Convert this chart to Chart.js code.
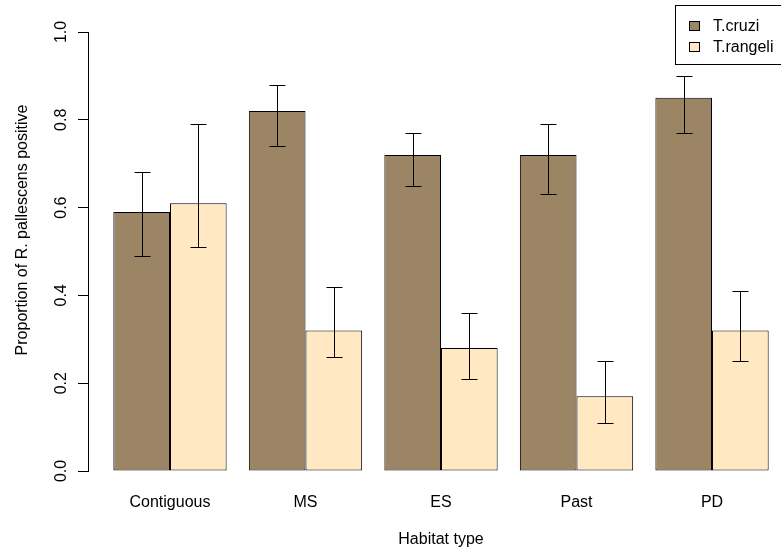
<!DOCTYPE html>
<html>
<head>
<meta charset="utf-8">
<script src="https://cdn.jsdelivr.net/npm/chart.js@4.4.1/dist/chart.umd.min.js"></script>
<style>
html,body{margin:0;padding:0;background:#fff;}
#wrap{width:781px;height:551px;}
</style>
</head>
<body>
<div id="wrap"><canvas id="c" width="781" height="551"></canvas></div>
<script>
// ---- data ----
const categories = ['Contiguous', 'MS', 'ES', 'Past', 'PD'];
const seriesNames = ['T.cruzi', 'T.rangeli'];
const cruzi      = [0.59, 0.82, 0.72, 0.72, 0.85];
const cruziLo    = [0.49, 0.74, 0.65, 0.63, 0.77];
const cruziHi    = [0.68, 0.88, 0.77, 0.79, 0.90];
const rangeli    = [0.61, 0.32, 0.28, 0.17, 0.32];
const rangeliLo  = [0.51, 0.26, 0.21, 0.11, 0.25];
const rangeliHi  = [0.79, 0.42, 0.36, 0.25, 0.41];
const yTicks     = [0.0, 0.2, 0.4, 0.6, 0.8, 1.0];
const xTitle = 'Habitat type';
const yTitle = 'Proportion of R. pallescens positive';

const positions = categories.map((c, i) => i + 1);
const errLo = [cruziLo, rangeliLo];
const errHi = [cruziHi, rangeliHi];
const colors = ['#9C8565', '#FFE8C2'];
const FONT = '"Liberation Sans", Arial, Helvetica, sans-serif';

const errorBars = {
  id: 'errorBars',
  afterDatasetsDraw(chart) {
    const ctx = chart.ctx;
    const ys = chart.scales.y;
    ctx.save();
    ctx.strokeStyle = '#000';
    ctx.lineWidth = 1;
    chart.data.datasets.forEach((ds, di) => {
      const meta = chart.getDatasetMeta(di);
      meta.data.forEach((el, j) => {
        const x = Math.round(el.x) + 0.5;
        const yH = Math.round(ys.getPixelForValue(errHi[di][j])) + 0.5;
        const yL = Math.round(ys.getPixelForValue(errLo[di][j])) + 0.5;
        ctx.beginPath();
        ctx.moveTo(x, yH); ctx.lineTo(x, yL);
        ctx.moveTo(x - 8, yH); ctx.lineTo(x + 8, yH);
        ctx.moveTo(x - 8, yL); ctx.lineTo(x + 8, yL);
        ctx.stroke();
      });
    });
    ctx.restore();
  }
};

const extras = {
  id: 'extras',
  afterDraw(chart) {
    const ctx = chart.ctx;
    ctx.save();
    ctx.fillStyle = '#000';
    ctx.font = '16px ' + FONT;
    ctx.textAlign = 'center';
    ctx.textBaseline = 'middle';
    // x title
    ctx.fillText(xTitle, 441, 540);
    // y title
    ctx.save();
    ctx.translate(23, 230);
    ctx.rotate(-Math.PI / 2);
    ctx.fillText(yTitle, 0, 0);
    ctx.restore();
    // legend
    ctx.strokeStyle = '#000';
    ctx.lineWidth = 1;
    ctx.strokeRect(675.5, 5.5, 120, 59);
    ctx.textAlign = 'left';
    const rows = [26, 47];
    seriesNames.forEach((n, i) => {
      ctx.fillStyle = colors[i];
      ctx.fillRect(689.5, rows[i] - 4.5, 10, 9);
      ctx.strokeRect(689.5, rows[i] - 4.5, 10, 9);
      ctx.fillStyle = '#000';
      ctx.fillText(n, 713, rows[i] + 1);
    });
    ctx.restore();
  }
};

new Chart(document.getElementById('c'), {
  type: 'bar',
  data: {
    labels: positions,
    datasets: [
      { label: seriesNames[0], data: cruzi, backgroundColor: colors[0], borderColor: '#000', borderWidth: 1, borderSkipped: false },
      { label: seriesNames[1], data: rangeli, backgroundColor: colors[1], borderColor: '#000', borderWidth: 1, borderSkipped: false }
    ]
  },
  options: {
    responsive: false,
    animation: false,
    devicePixelRatio: 1,
    layout: { padding: { top: 32, right: 0, left: 0, bottom: 0 } },
    datasets: { bar: { categoryPercentage: 0.836, barPercentage: 1.0 } },
    plugins: { legend: { display: false }, tooltip: { enabled: false } },
    scales: {
      x: {
        type: 'linear',
        offset: false,
        min: 0.395,
        max: 5.509,
        grid: { display: false, drawTicks: false, offset: false },
        border: { display: false },
        afterBuildTicks(scale) { scale.ticks = positions.map(v => ({ value: v })); },
        afterFit(scale) { scale.height = 80; },
        ticks: {
          autoSkip: false,
          padding: 22,
          color: '#000',
          font: { family: FONT, size: 16 },
          callback: (v) => categories[v - 1]
        }
      },
      y: {
        min: 0,
        max: 1,
        afterBuildTicks(scale) { scale.ticks = yTicks.map(v => ({ value: v })); },
        afterFit(scale) { scale.width = 88; },
        grid: { display: true, drawOnChartArea: false, drawTicks: true, tickLength: 10, color: '#000', lineWidth: 1 },
        border: { display: true, color: '#000', width: 1 },
        ticks: {
          minRotation: 90,
          maxRotation: 90,
          crossAlign: 'center',
          padding: 5,
          color: '#000',
          font: { family: FONT, size: 16 },
          callback: (v) => Number(v).toFixed(1)
        }
      }
    }
  },
  plugins: [errorBars, extras]
});
</script>
</body>
</html>
